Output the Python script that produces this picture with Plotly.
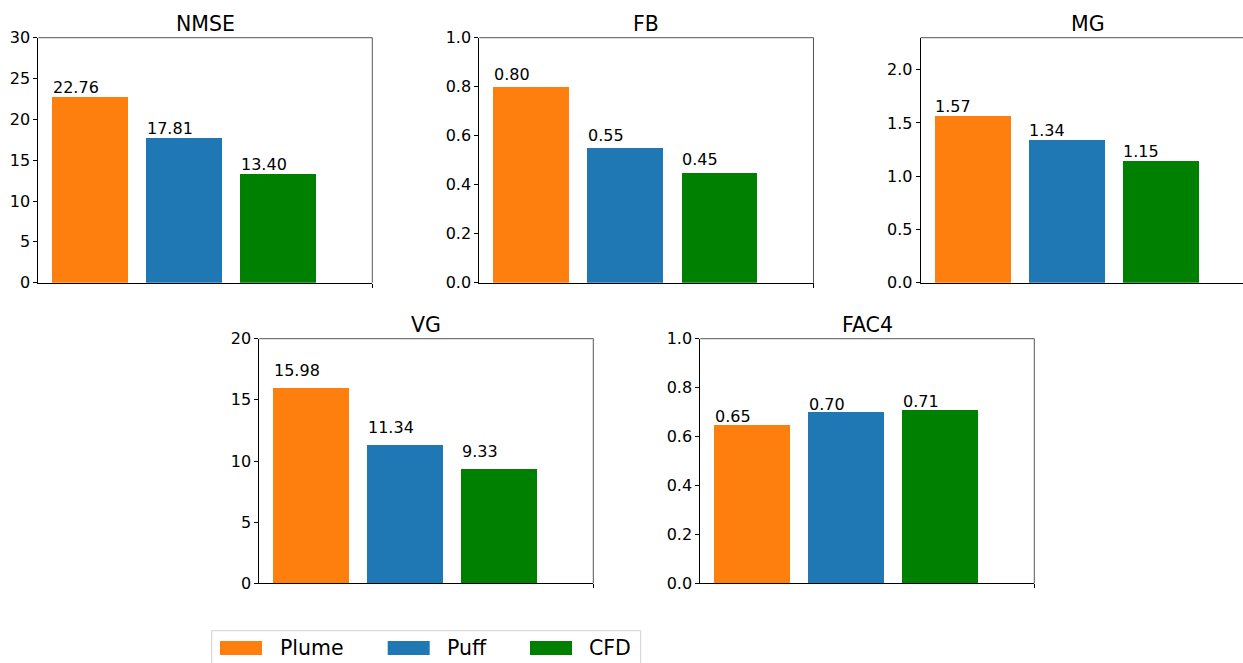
import plotly.graph_objects as go

# ---- data ----
metrics = ["NMSE", "FB", "MG", "VG", "FAC4"]
methods = ["Plume", "Puff", "CFD"]
colors = ["#ff7f0e", "#1f77b4", "#008000"]
nmse = [22.76, 17.81, 13.40]
fb = [0.80, 0.55, 0.45]
mg = [1.57, 1.34, 1.15]
vg = [15.98, 11.34, 9.33]
fac4 = [0.65, 0.70, 0.71]
values = [nmse, fb, mg, vg, fac4]
y_max = [30, 1.0, 2.3, 20, 1.0]
y_dtick = [5, 0.2, 0.5, 5, 0.2]
y_fmt = ["d", ".1f", ".1f", "d", ".1f"]
label_shift = [-2.5, 1, -2.5, 6, -3.5]

W, H = 1243, 663
# panel pixel boxes (left, right, top, bottom)
boxes = [
    (38.3, 372.3, 37.7, 282.7),
    (479.3, 813.5, 37.7, 282.7),
    (920.7, 1254.7, 37.7, 282.7),
    (259.3, 593.3, 338.7, 583.3),
    (700.3, 1034.3, 338.7, 583.3),
]
XMIN, XMAX = -0.553, 3.0
FONT = "DejaVu Sans"

fig = go.Figure()
layout = dict(
    width=W, height=H,
    margin=dict(l=0, r=0, t=0, b=0, autoexpand=False),
    paper_bgcolor="white", plot_bgcolor="white",
    font=dict(family=FONT, size=16, color="black"),
    bargap=0, barmode="overlay", showlegend=False,
)
annotations = []
shapes = []

for k, (m, vals) in enumerate(zip(metrics, values)):
    l, r, t, b = boxes[k]
    x0 = l / W
    x1 = min(r / W, 1.0)
    xmax = XMIN + (min(r, W) - l) / (r - l) * (XMAX - XMIN)
    xa = "xaxis" if k == 0 else f"xaxis{k+1}"
    ya = "yaxis" if k == 0 else f"yaxis{k+1}"
    xr = "x" if k == 0 else f"x{k+1}"
    yr = "y" if k == 0 else f"y{k+1}"
    layout[xa] = dict(
        domain=[x0, x1], anchor=yr, range=[XMIN, xmax], automargin=False,
        showgrid=False, zeroline=False, showline=True, linecolor="black", linewidth=1,
        tickvals=[3], ticks="outside", ticklen=4, tickcolor="black", showticklabels=False,
        fixedrange=True,
    )
    layout[ya] = dict(
        domain=[1 - b / H, 1 - t / H], anchor=xr, range=[0, y_max[k]], automargin=False,
        dtick=y_dtick[k], tick0=0, tickformat=y_fmt[k],
        showgrid=False, zeroline=False, showline=True, linecolor="black", linewidth=1,
        ticks="outside", ticklen=4, tickcolor="black",
        tickfont=dict(family=FONT, size=16, color="black"),
        fixedrange=True,
    )
    for j, (meth, v) in enumerate(zip(methods, vals)):
        fig.add_trace(go.Bar(
            x=[j], y=[v], width=0.8, name=meth, marker_color=colors[j],
            marker_line_width=0, xaxis=xr, yaxis=yr,
        ))
        annotations.append(dict(
            x=j - 0.4, y=v, xref=xr, yref=yr, text=f"{v:.2f}",
            xanchor="left", yanchor="bottom", showarrow=False,
            yshift=label_shift[k], xshift=-2,
            font=dict(family=FONT, size=16, color="black"),
        ))
    # title
    annotations.append(dict(
        x=(l + (r - l) / 2) / W, y=1 - t / H,
        xref="paper", yref="paper", text=m, showarrow=False,
        xanchor="center", yanchor="bottom", yshift=0,
        font=dict(family=FONT, size=20.5, color="black"),
    ))
    # top & right spines
    shapes.append(dict(type="line", xref=f"{xr} domain", yref=f"{yr} domain",
                       x0=0, x1=1, y0=1, y1=1, line=dict(color="#555", width=1)))
    if r <= W:
        shapes.append(dict(type="line", xref=f"{xr} domain", yref=f"{yr} domain",
                           x0=1, x1=1, y0=0, y1=1, line=dict(color="#555", width=1)))

# legend (drawn as paper-anchored patches + text)
leg_box = (211.7, 640.7, 630.7, 675)
leg_patch_x = [220, 387.7, 530]
leg_text_x = [280, 447, 589]
shapes.append(dict(type="rect", xref="paper", yref="paper",
                   x0=leg_box[0] / W, x1=leg_box[1] / W,
                   y0=1 - leg_box[3] / H, y1=1 - leg_box[2] / H,
                   line=dict(color="#d0d0d0", width=1), fillcolor="white", layer="below"))
for j, meth in enumerate(methods):
    shapes.append(dict(type="rect", xref="paper", yref="paper",
                       x0=leg_patch_x[j] / W, x1=(leg_patch_x[j] + 42) / W,
                       y0=1 - 655 / H, y1=1 - 641 / H,
                       line=dict(width=0), fillcolor=colors[j]))
    annotations.append(dict(
        x=leg_text_x[j] / W, y=1 - 648 / H, xref="paper", yref="paper", text=meth,
        xanchor="left", yanchor="middle", showarrow=False, xshift=-2,
        font=dict(family=FONT, size=20.5, color="black"),
    ))

layout["annotations"] = annotations
layout["shapes"] = shapes
fig.update_layout(**layout)
fig.write_html(
    "out.html",
    config={"displayModeBar": False},
    post_script="document.body.style.margin='0';document.body.style.overflow='hidden';",
)
